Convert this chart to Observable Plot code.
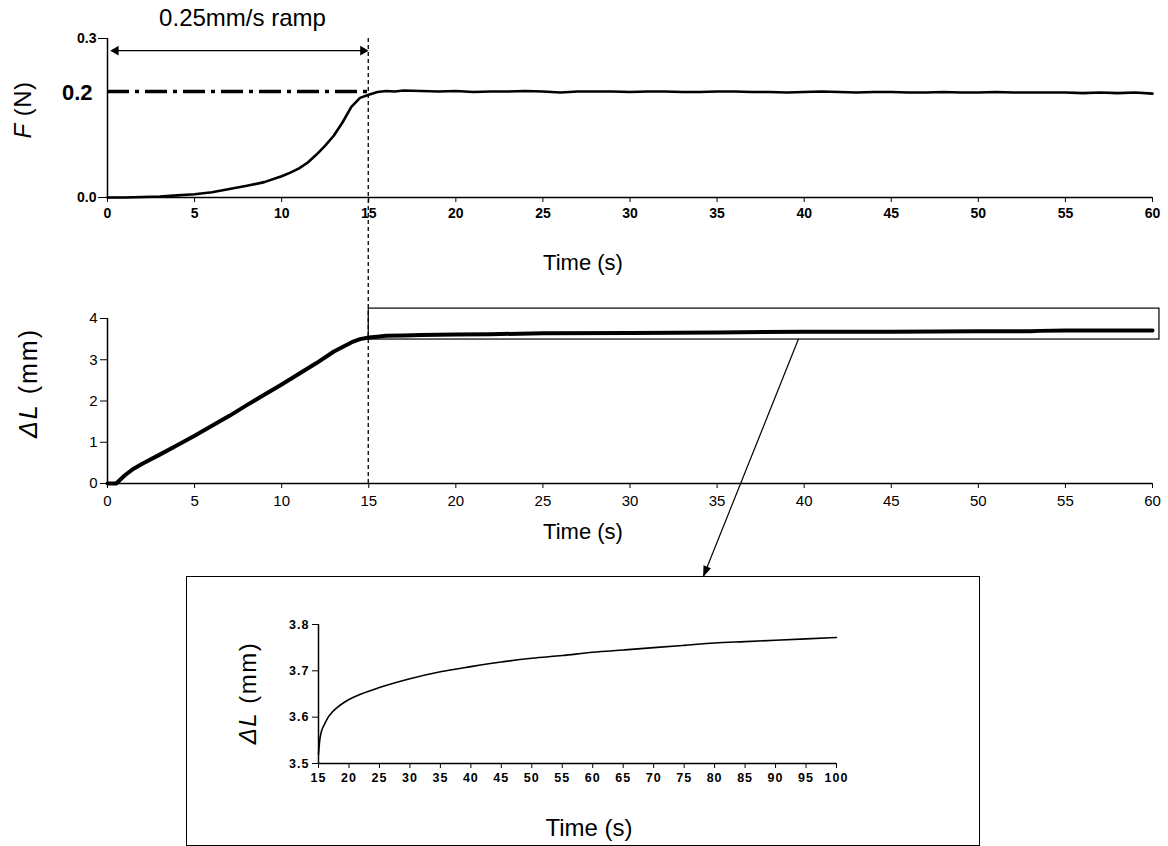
<!DOCTYPE html>
<html><head><meta charset="utf-8">
<script src="https://cdn.jsdelivr.net/npm/d3@7"></script>
<script src="https://cdn.jsdelivr.net/npm/@observablehq/plot@0.6"></script>
<style>
body{margin:0;background:#fff;}
#wrap{position:relative;width:1168px;height:846px;overflow:hidden;background:#fff;font-family:"Liberation Sans",Arial,sans-serif;}
#wrap svg{position:absolute;left:0;top:0;}
#insetBox{position:absolute;left:186px;top:576px;width:794px;height:270px;border:1.3px solid #000;box-sizing:border-box;}
</style></head><body><div id="wrap"><div id="insetBox"></div></div>
<script>
// ---- data ----
const forceTime = [0,1,2,3,4,5,6,7,8,9,10,10.5,11,11.5,12,12.5,13,13.5,14,14.5,15,15.5,16,16.5,17,
  18,19,20,21,22,23,24,25,26,27,28,29,30,31,32,33,34,35,36,37,38,39,40,41,42,43,44,45,46,47,48,49,50,51,52,53,54,55,56,57,58,59,60];
const forceN = [0,0,0.001,0.002,0.004,0.006,0.010,0.016,0.022,0.029,0.040,0.047,0.055,0.066,0.081,0.098,0.117,0.142,0.171,0.188,0.194,0.199,0.201,0.200,0.202,
  0.201,0.200,0.201,0.199,0.200,0.200,0.201,0.200,0.198,0.200,0.200,0.200,0.199,0.200,0.200,0.199,0.199,0.200,0.200,0.199,0.199,0.198,0.199,0.200,0.199,0.198,0.199,0.199,0.198,0.198,0.199,0.198,0.198,0.199,0.198,0.198,0.198,0.198,0.197,0.198,0.197,0.198,0.196];

const dispTime = [0,0.5,1,1.5,2,3,4,5,6,7,8,9,10,11,12,13,14,14.5,15,15.5,16,17,18,20,22,25,30,35,40,45,50,53,53.5,55,60];
const dispMM   = [0,0,0.20,0.36,0.48,0.70,0.93,1.16,1.40,1.64,1.90,2.15,2.40,2.66,2.92,3.20,3.42,3.50,3.54,3.56,3.58,3.59,3.60,3.61,3.62,3.64,3.65,3.66,3.68,3.68,3.69,3.69,3.70,3.71,3.71];

const creepTime = [15,15.2,15.5,16,16.5,17,18,19,20,22,25,30,35,40,45,50,55,60,65,70,75,80,85,90,95,100];
const creepMM   = [3.52,3.55,3.57,3.585,3.598,3.607,3.62,3.63,3.638,3.65,3.664,3.683,3.698,3.709,3.719,3.727,3.733,3.74,3.745,3.75,3.755,3.76,3.763,3.766,3.769,3.772];

const mainTicks  = [0,5,10,15,20,25,30,35,40,45,50,55,60];
const forceTicks = [0,0.3];
const dispTicks  = [0,1,2,3,4];
const insetTicks = [15,20,25,30,35,40,45,50,55,60,65,70,75,80,85,90,95,100];
const creepTicks = [3.5,3.6,3.7,3.8];

const targetForce = [0.2];          // set-point (N)
const rampEnd = [15];               // end of 0.25 mm/s ramp (s)
const rampLabel = ["0.25mm/s ramp"];
const zoomBox = [{t1: 15, t2: 60.4, l1: 3.49, l2: 4.24}]; // region shown in the inset
const zoomFrom = {t: 39.7, l: 3.49};
const zoomTo = {t: 78.2};

const forceData = forceTime.map((t,i)=>({t, f: forceN[i]}));
const dispData = dispTime.map((t,i)=>({t, l: dispMM[i]}));
const creepData = creepTime.map((t,i)=>({t, l: creepMM[i]}));

const W = 1168, H = 846;
const FONT = "'Liberation Sans', Arial, sans-serif";
const wrap = document.getElementById("wrap");

function styleTicks(svg, css) {
  svg.querySelectorAll("text").forEach(t => {
    if (t.closest('[aria-label="text"]')) return;   // leave annotation text marks alone
    Object.assign(t.style, css);
  });
}

// ---- top: force ----
const topPlot = Plot.plot({
  width: W, height: H,
  marginLeft: 107, marginRight: 16, marginTop: 38, marginBottom: H - 197,
  style: {background: "transparent", overflow: "visible", fontFamily: FONT, color: "black"},
  x: {domain: [0, 60], ticks: mainTicks, tickFormat: d => d, label: null, tickSize: 5, tickPadding: 6},
  y: {domain: [0, 0.3], ticks: forceTicks, tickFormat: d3.format(".1f"), label: null, tickSize: 9, tickPadding: 2},
  marks: [
    Plot.ruleY([0], {strokeWidth: 1.5}),
    Plot.ruleX([0], {strokeWidth: 1.5}),
    Plot.ruleY(targetForce, {x1: 0, x2: rampEnd[0], strokeWidth: 3.5, strokeDasharray: "22,6,4,6"}),
    Plot.text(targetForce, {x: 0, y: d => d, text: d => d3.format(".1f")(d), textAnchor: "end", dx: -15, dy: 1, fontSize: 22, fontWeight: "bold"}),
    Plot.link([0], {x1: 0.25, x2: rampEnd[0] - 0.1, y1: 0.277, y2: 0.277, strokeWidth: 1.3}),
    Plot.dot([0.25], {x: d => d, y: 0.277, symbol: "triangle", rotate: -90, r: 3.6, fill: "black", stroke: null, dx: 4}),
    Plot.dot([rampEnd[0] - 0.1], {x: d => d, y: 0.277, symbol: "triangle", rotate: 90, r: 3.6, fill: "black", stroke: null, dx: -4}),
    Plot.text(rampLabel, {x: 7.75, y: 0.3, dy: -20, text: d => d, fontSize: 24, fontWeight: "normal", letterSpacing: "0.8px"}),
    Plot.line(forceData, {x: "t", y: "f", strokeWidth: 2.6})
  ]
});
styleTicks(topPlot, {fontSize: "14px", fontWeight: "bold"});
wrap.appendChild(topPlot);

// ---- middle: displacement ----
const midPlot = Plot.plot({
  width: W, height: H,
  marginLeft: 107, marginRight: 16, marginTop: 318, marginBottom: H - 483,
  style: {background: "transparent", overflow: "visible", fontFamily: FONT, color: "black"},
  x: {domain: [0, 60], ticks: mainTicks, tickFormat: d => d, label: null, tickSize: 5, tickPadding: 7},
  y: {domain: [0, 4], ticks: dispTicks, tickFormat: d => d, label: null, tickSize: 7, tickPadding: 3},
  marks: [
    Plot.ruleY([0], {strokeWidth: 1.5}),
    Plot.ruleX([0], {strokeWidth: 1.5}),
    Plot.rect(zoomBox, {x1: "t1", x2: "t2", y1: "l1", y2: "l2", fill: "none", stroke: "black", strokeWidth: 1.2}),
    Plot.line(dispData, {x: "t", y: "l", strokeWidth: 4})
  ]
});
styleTicks(midPlot, {fontSize: "15px", fontWeight: "normal"});
wrap.appendChild(midPlot);

// ---- inset: creep ----
const insetPlot = Plot.plot({
  width: W, height: H,
  marginLeft: 318, marginRight: W - 836, marginTop: 624, marginBottom: H - 763,
  style: {background: "transparent", overflow: "visible", fontFamily: FONT, color: "black"},
  x: {domain: [15, 100], ticks: insetTicks, tickFormat: d => d, label: null, tickSize: 5, tickPadding: 5},
  y: {domain: [3.5, 3.8], ticks: creepTicks, tickFormat: d3.format(".1f"), label: null, tickSize: 6, tickPadding: 3},
  marks: [
    Plot.ruleY([3.5], {strokeWidth: 1.5}),
    Plot.ruleX([15], {strokeWidth: 1.5}),
    Plot.line(creepData, {x: "t", y: "l", strokeWidth: 1.6, curve: "monotone-x"})
  ]
});
styleTicks(insetPlot, {fontSize: "12.5px", fontWeight: "bold", letterSpacing: "1px"});
wrap.appendChild(insetPlot);

// ---- overlay: cross-panel annotations and axis titles ----
const tx = topPlot.scale("x"), ty = topPlot.scale("y");
const mx = midPlot.scale("x"), my = midPlot.scale("y");
const ix = insetPlot.scale("x");
const ov = d3.create("svg").attr("width", W).attr("height", H)
  .style("overflow", "visible").attr("font-family", FONT);

ov.append("line")
  .attr("x1", tx.apply(rampEnd[0])).attr("x2", tx.apply(rampEnd[0]))
  .attr("y1", ty.apply(0.3)).attr("y2", my.apply(0))
  .attr("stroke", "black").attr("stroke-width", 1.3).attr("stroke-dasharray", "4,3");

const ax1 = mx.apply(zoomFrom.t), ay1 = my.apply(zoomFrom.l);
const ax2 = ix.apply(zoomTo.t), ay2 = 577;
ov.append("line").attr("x1", ax1).attr("y1", ay1).attr("x2", ax2).attr("y2", ay2)
  .attr("stroke", "black").attr("stroke-width", 1.2);
const ang = Math.atan2(ay2 - ay1, ax2 - ax1), hl = 11, hw = 4;
const bx = ax2 - hl * Math.cos(ang), by = ay2 - hl * Math.sin(ang);
ov.append("polygon")
  .attr("points", [[ax2, ay2], [bx + hw * Math.sin(ang), by - hw * Math.cos(ang)], [bx - hw * Math.sin(ang), by + hw * Math.cos(ang)]].map(p => p.join(",")).join(" "))
  .attr("fill", "black");

function ylab(x, y, parts, size, spacing) {
  const t = ov.append("text").attr("transform", `translate(${x},${y}) rotate(-90)`)
    .attr("text-anchor", "middle").attr("font-size", size).attr("letter-spacing", spacing).attr("fill", "black");
  parts.forEach(([s, it]) => t.append("tspan").attr("font-style", it ? "italic" : "normal").text(s));
}
ylab(31, 110, [["F", true], [" (N)", false]], 24, "0.5px");
ylab(37, 383, [["ΔL", true], [" (mm)", false]], 25, "2px");
ylab(256, 693, [["ΔL", true], [" (mm)", false]], 24, "1.5px");

function xlab(x, y, size) {
  ov.append("text").attr("x", x).attr("y", y).attr("text-anchor", "middle")
    .attr("font-size", size).attr("fill", "black").text("Time (s)");
}
xlab(583, 270, 22);
xlab(583, 539, 22);
xlab(589, 836, 24);

wrap.appendChild(ov.node());
</script></body></html>
